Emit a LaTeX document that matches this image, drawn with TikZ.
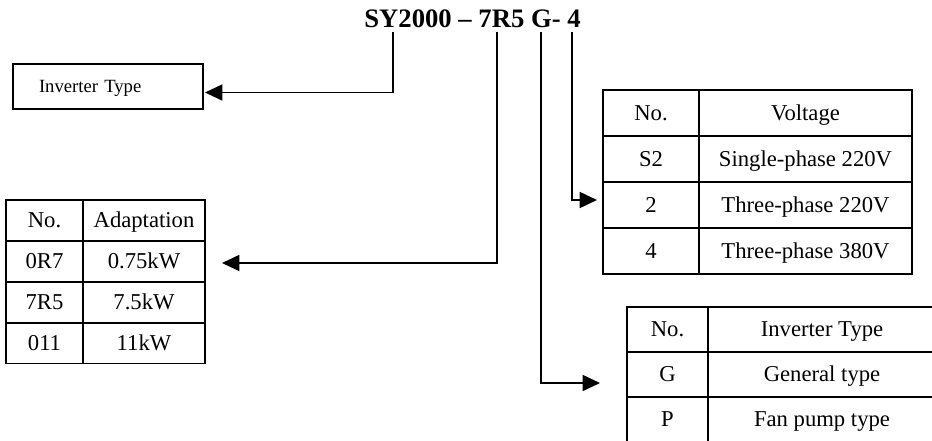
\documentclass[tikz,border=0pt]{standalone}
\usepackage{fontspec}
\setmainfont{Liberation Serif}
\usetikzlibrary{arrows.meta}

\newcommand{\px}{0.75pt}

\begin{document}
\begin{tikzpicture}[x=0.75pt, y=-0.75pt,
    cell/.style={rectangle, draw, line width=1.2pt, inner sep=0pt, outer sep=0pt, text height=11.2pt, text depth=0pt, font=\fontsize{17}{20}\selectfont},
    adl/.style={cell, minimum width=77*\px, minimum height=41*\px},
    adr/.style={cell, minimum width=122*\px, minimum height=41*\px},
    vol/.style={cell, minimum width=96*\px, minimum height=46*\px},
    vor/.style={cell, minimum width=213*\px, minimum height=46*\px},
    tyl/.style={cell, minimum width=81*\px, minimum height=45*\px},
    tyr/.style={cell, minimum width=228*\px, minimum height=45*\px},
    box/.style={rectangle, draw, line width=1.2pt, outer sep=0pt, inner ysep=0pt, minimum height=45*\px, text height=9.3pt, text depth=0pt, text width=138*\px, inner xsep=26*\px, align=left, font=\fontsize{14}{16}\selectfont},
    arrow/.style={-{Triangle[length=13pt,width=12pt]}, line width=1.3pt}
]
    \path[use as bounding box, clip] (0,0) rectangle (932,440);

    % model code
    \node[anchor=base, font=\bfseries\fontsize{20}{24}\selectfont] (code) at (472.5,27) {SY2000 – 7R5 G- 4};
    \coordinate (sy) at (393,32);
    \coordinate (kw) at (497,32);
    \coordinate (gt) at (541,32);
    \coordinate (vt) at (572,32);

    % inverter type box
    \node[box, anchor=west] (type) at (13,86.5) {Inverter Type};

    % adaptation table
    \node[adl] (a0) at (44.5,220.5) {No.};
    \node[adr] (a0r) at (144,220.5) {Adaptation};
    \node[adl] (a1) at (44.5,261.5) {0R7};
    \node[adr] (a1r) at (144,261.5) {0.75kW};
    \node[adl] (a2) at (44.5,302.5) {7R5};
    \node[adr] (a2r) at (144,302.5) {7.5kW};
    \node[adl] (a3) at (44.5,343) {011};
    \node[adr] (a3r) at (144,343) {11kW};

    % voltage table
    \node[vol] (v0) at (651,113) {No.};
    \node[vor] (v0r) at (805.5,113) {Voltage};
    \node[vol] (v1) at (651,159) {S2};
    \node[vor] (v1r) at (805.5,159) {Single-phase 220V};
    \node[vol] (v2) at (651,205) {2};
    \node[vor] (v2r) at (805.5,205) {Three-phase 220V};
    \node[vol] (v3) at (651,251) {4};
    \node[vor] (v3r) at (805.5,251) {Three-phase 380V};

    % inverter type table
    \node[tyl] (g0) at (667.5,329.5) {No.};
    \node[tyr] (g0r) at (822,329.5) {Inverter Type};
    \node[tyl] (g1) at (667.5,374.5) {G};
    \node[tyr] (g1r) at (822,374.5) {General type};
    \node[tyl] (g2) at (667.5,419.5) {P};
    \node[tyr] (g2r) at (822,419.5) {Fan pump type};

    % arrow ends
    \coordinate (typein) at ([xshift=2*\px, yshift=-6*\px]type.east);
    \coordinate (kwin) at ([xshift=17*\px, yshift=-1.5*\px]a1r.east);
    \coordinate (vtin) at ([xshift=-6*\px, yshift=5*\px]v2.west);
    \coordinate (gtin) at ([xshift=-27*\px, yshift=-8.5*\px]g1.west);

    \draw[arrow] (sy) |- (typein);
    \draw[arrow] (kw) |- (kwin);
    \draw[arrow] (vt) |- (vtin);
    \draw[arrow] (gt) |- (gtin);
\end{tikzpicture}
\end{document}
